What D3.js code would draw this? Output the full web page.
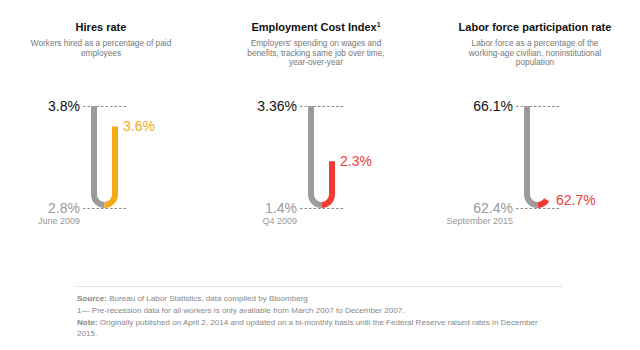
<!DOCTYPE html>
<html>
<head>
<meta charset="utf-8">
<script src="https://cdn.jsdelivr.net/npm/d3@7"></script>
<style>
  html, body { margin: 0; padding: 0; background: #fff; }
  svg { display: block; font-family: "Liberation Sans", Arial, sans-serif; }
</style>
</head>
<body>
<svg id="chart" width="640" height="350"></svg>
<script>
// ---- data ----
const titles = ["Hires rate", "Employment Cost Index", "Labor force participation rate"];
const titleNotes = ["", "1", ""];
const subtitles = [
  ["Workers hired as a percentage of paid", "employees"],
  ["Employers' spending on wages and", "benefits, tracking same job over time,", "year-over-year"],
  ["Labor force as a percentage of the", "working-age civilian, noninstitutional", "population"]
];
const peakValues = [3.8, 3.36, 66.1];
const troughValues = [2.8, 1.4, 62.4];
const currentValues = [3.6, 2.3, 62.7];
const troughDates = ["June 2009", "Q4 2009", "September 2015"];
const footnotes = [
  {bold: "Source:", text: " Bureau of Labor Statistics, data compiled by Bloomberg"},
  {bold: "", text: "1\u2014 Pre-recession data for all workers is only available from March 2007 to December 2007."},
  {bold: "Note:", text: " Originally published on April 2, 2014 and updated on a bi-monthly basis until the Federal Reserve raised rates in December"},
  {bold: "", text: "2015."}
];

// ---- styles ----
const currentColors = ["#f5aa19", "#f23a33", "#f23a33"];
const gray = "#9b9b9b";
const barX = [94, 311, 527];
const titleX = [101, 316, 535];

const svg = d3.select("#chart");
const W = 6, R = 10.5;

titles.forEach((t, i) => {
  const g = svg.append("g");
  const tt = g.append("text")
    .attr("x", titleX[i]).attr("y", 30.5)
    .attr("text-anchor", "middle")
    .attr("font-size", 11).attr("font-weight", "bold").attr("fill", "#111")
    .text(t);
  if (titleNotes[i]) {
    tt.append("tspan").attr("font-size", 7).attr("dy", -4).text(titleNotes[i]);
  }
  g.selectAll("text.sub").data(subtitles[i]).join("text")
    .attr("class", "sub")
    .attr("x", titleX[i])
    .attr("y", (d, j) => 46 + j * 9.5)
    .attr("text-anchor", "middle")
    .attr("font-size", 8.3).attr("fill", "#777")
    .text(d => d);

  const y = d3.scaleLinear().domain([troughValues[i], peakValues[i]]).range([208, 106]);
  const gx = barX[i];

  // dashed guides
  [peakValues[i], troughValues[i]].forEach(v => {
    g.append("line")
      .attr("x1", gx - 11).attr("x2", gx + 34)
      .attr("y1", Math.round(y(v)) + 0.5).attr("y2", Math.round(y(v)) + 0.5)
      .attr("stroke", "#8a8a8a").attr("stroke-width", 1)
      .attr("stroke-dasharray", "2.5,2");
  });

  const yb = y(troughValues[i]) - W / 2; // centerline bottom
  // gray left arm: peak down to trough
  const pg = d3.path();
  pg.moveTo(gx, y(peakValues[i]));
  pg.lineTo(gx, yb - R);
  pg.arc(gx + R, yb - R, R, Math.PI, Math.PI / 2, true);
  g.append("path").attr("d", pg.toString())
    .attr("fill", "none").attr("stroke", gray).attr("stroke-width", W);

  // colored right arm: trough up to current
  const yv = y(currentValues[i]);
  const pc = d3.path();
  pc.moveTo(gx + R, yb);
  if (yv <= yb - R) {
    pc.arc(gx + R, yb - R, R, Math.PI / 2, 0, true);
    pc.lineTo(gx + 2 * R, yv);
  } else {
    const ang = Math.acos(Math.max(-1, Math.min(1, (yv - (yb - R)) / R)));
    pc.arc(gx + R, yb - R, R, Math.PI / 2, Math.PI / 2 - ang, true);
  }
  g.append("path").attr("d", pc.toString())
    .attr("fill", "none").attr("stroke", currentColors[i]).attr("stroke-width", W);

  // labels
  g.append("text")
    .attr("x", gx - 14).attr("y", y(peakValues[i]) + 5)
    .attr("text-anchor", "end").attr("font-size", 14).attr("fill", "#111")
    .text(peakValues[i] + "%");
  g.append("text")
    .attr("x", gx - 14).attr("y", y(troughValues[i]) + 5)
    .attr("text-anchor", "end").attr("font-size", 14).attr("fill", "#999")
    .text(troughValues[i] + "%");
  g.append("text")
    .attr("x", gx - 14).attr("y", y(troughValues[i]) + 15.5)
    .attr("text-anchor", "end").attr("font-size", 9).attr("fill", "#999")
    .text(troughDates[i]);
  g.append("text")
    .attr("x", gx + 2 * R + 8).attr("y", yv + 5)
    .attr("text-anchor", "start").attr("font-size", 14).attr("fill", currentColors[i])
    .text(currentValues[i] + "%");
});

// footer
svg.append("line").attr("x1", 76).attr("x2", 562).attr("y1", 286.5).attr("y2", 286.5)
  .attr("stroke", "#e3e3e3").attr("stroke-width", 1);
const ft = svg.selectAll("text.foot").data(footnotes).join("text")
  .attr("class", "foot")
  .attr("x", 77)
  .attr("y", (d, i) => [301, 313, 325, 336][i])
  .attr("font-size", 8.05).attr("fill", "#888");
ft.append("tspan").attr("font-weight", "bold").text(d => d.bold);
ft.append("tspan").text(d => d.text);
</script>
</body>
</html>
